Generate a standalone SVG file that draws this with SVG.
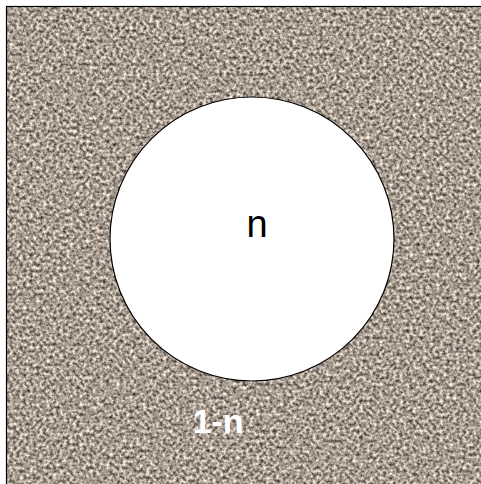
<svg xmlns="http://www.w3.org/2000/svg" width="481" height="484" viewBox="0 0 481 484">
  <style>
    .lbl { font-family: "Liberation Sans", Arial, sans-serif; }
  </style>
  <defs>
    <filter id="grain" x="0" y="0" width="100%" height="100%" color-interpolation-filters="sRGB">
      <feTurbulence type="fractalNoise" baseFrequency="0.3" numOctaves="2" seed="7" result="noise"/>
      <feColorMatrix in="noise" type="matrix" values="1.25 0 0 0 0.03  1.2 0 0 0 0.01  1.15 0 0 0 -0.01  0 0 0 0 1"/>
    </filter>
  </defs>
  <rect x="0" y="0" width="481" height="484" fill="#ffffff"/>
  <g id="background">
    <rect x="6" y="6" width="475" height="478" fill="#a69990"/>
    <rect x="6" y="6" width="475" height="478" filter="url(#grain)"/>
    <rect x="6.5" y="6.5" width="480" height="480" fill="none" stroke="#000" stroke-width="1.2"/>
  </g>
  <g id="circle">
    <circle cx="252" cy="239" r="142" fill="#ffffff" stroke="#000" stroke-width="1.2"/>
    <text class="lbl" x="257" y="237" font-size="38" text-anchor="middle" fill="#000">n</text>
  </g>
  <g id="outside-label">
    <text class="lbl" x="218" y="433" font-size="34" font-weight="bold" text-anchor="middle" fill="#ffffff">1-n</text>
  </g>
</svg>
